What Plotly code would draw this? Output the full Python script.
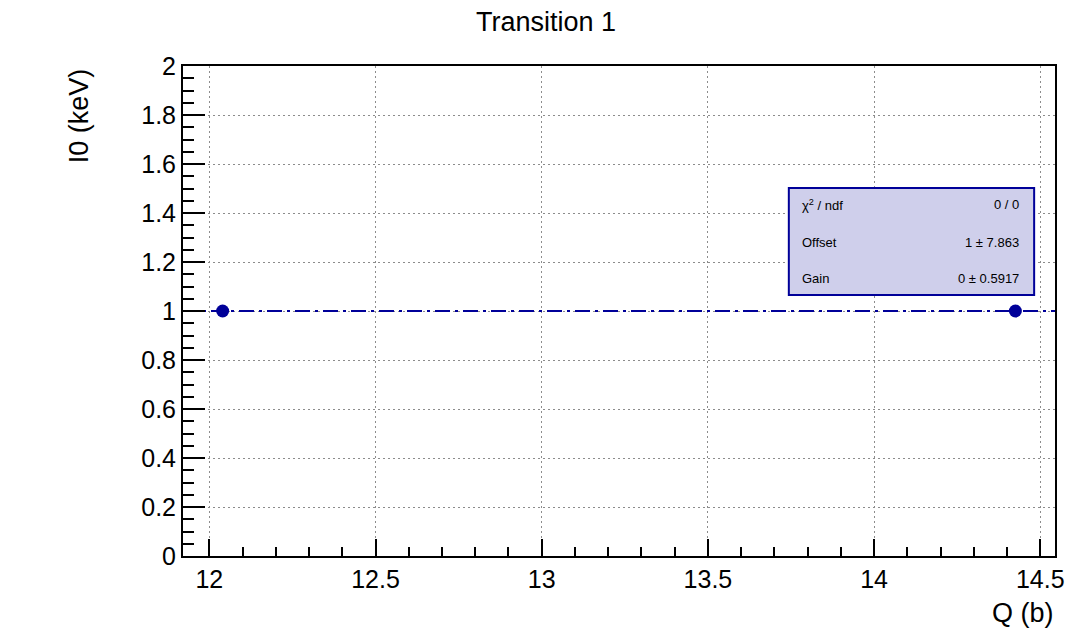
import plotly.graph_objects as go

# Measured points
q_values = [12.04, 14.425]
i0_values = [1.0, 1.0]

# Linear fit result: I0 = Offset + Gain * Q
fit_names = ["χ<sup>2</sup> / ndf", "Offset", "Gain"]
fit_texts = ["0 / 0", "1 ± 7.863", "0 ± 0.5917"]
offset = 1.0
gain = 0.0

title_text = "Transition 1"
x_title = "Q (b)"
y_title = "I0 (keV)"

font_family = "Liberation Sans, Arial, Helvetica, sans-serif"
navy = "#000099"
black = "#000000"

# ROOT-like 5% padding around the points on x
span = max(q_values) - min(q_values)
x_lo = min(q_values) - 0.05 * span
x_hi = max(q_values) + 0.05 * span

fit_x = [x_lo, x_hi]
fit_y = [offset + gain * v for v in fit_x]

fig = go.Figure()

fig.add_trace(go.Scatter(
    x=fit_x, y=fit_y, mode="lines",
    line=dict(color=navy, width=2, dash="15px,5px,3px,5px"),
    hoverinfo="skip", showlegend=False,
))
fig.add_trace(go.Scatter(
    x=q_values, y=i0_values, mode="markers",
    marker=dict(color=navy, size=13, symbol="circle"),
    showlegend=False,
))

axis_common = dict(
    showline=True, linecolor=black, linewidth=2, mirror=True,
    ticks="inside", tickcolor=black, tickwidth=2,
    showgrid=True, gridcolor="#8c8c8c", griddash="1.5px,3.5px", gridwidth=1,
    zeroline=False,
    tickfont=dict(family=font_family, size=25, color=black),
)

ML, MR, MT, MB = 183, 16, 66, 78

fig.update_layout(
    width=1077, height=634,
    margin=dict(l=ML, r=MR, t=MT, b=MB),
    plot_bgcolor="white", paper_bgcolor="white",
    font=dict(family=font_family, color=black),
    xaxis=dict(
        range=[x_lo, x_hi], dtick=0.5, tick0=12, ticklen=17,
        minor=dict(ticks="inside", dtick=0.1, ticklen=9, tickcolor=black, tickwidth=1.5, showgrid=False),
        **axis_common,
    ),
    yaxis=dict(
        range=[0, 2], dtick=0.2, tick0=0, ticklen=22,
        minor=dict(ticks="inside", dtick=0.05, ticklen=11, tickcolor=black, tickwidth=1.5, showgrid=False),
        **axis_common,
    ),
    showlegend=False,
)

plot_w = 1077 - ML - MR
plot_h = 634 - MT - MB


def px_x(p):
    return (p - ML) / plot_w


def px_y(p):
    return (634 - MB - p) / plot_h


annotations = [
    dict(text=title_text, xref="paper", yref="paper", x=px_x(548), y=px_y(22),
         xanchor="center", yanchor="middle", showarrow=False,
         font=dict(size=27, color=black)),
    dict(text=x_title, xref="paper", yref="paper", x=px_x(1062), y=px_y(613),
         xanchor="right", yanchor="middle", showarrow=False,
         font=dict(size=27, color=black)),
    dict(text=y_title, xref="paper", yref="paper", x=px_x(78), y=px_y(66),
         xanchor="center", yanchor="top", textangle=-90, showarrow=False,
         font=dict(size=27, color=black)),
]

# Fit statistics box
box_l, box_r, box_t, box_b = 793, 1040, 188, 295
fig.add_shape(type="rect", xref="paper", yref="paper",
              x0=px_x(box_l), x1=px_x(box_r), y0=px_y(box_b), y1=px_y(box_t),
              fillcolor="#cfcfeb", line=dict(color=navy, width=2), layer="above")

row_y = [205, 242, 278]
for name, val, ry in zip(fit_names, fit_texts, row_y):
    annotations.append(dict(text=name, xref="paper", yref="paper",
                            x=px_x(804), y=px_y(ry), xanchor="left", yanchor="middle",
                            showarrow=False, font=dict(size=13, color=black)))
    annotations.append(dict(text=val, xref="paper", yref="paper",
                            x=px_x(1027), y=px_y(ry), xanchor="right", yanchor="middle",
                            showarrow=False, font=dict(size=13, color=black)))

fig.update_layout(annotations=annotations)

fig.write_html("out.html")
